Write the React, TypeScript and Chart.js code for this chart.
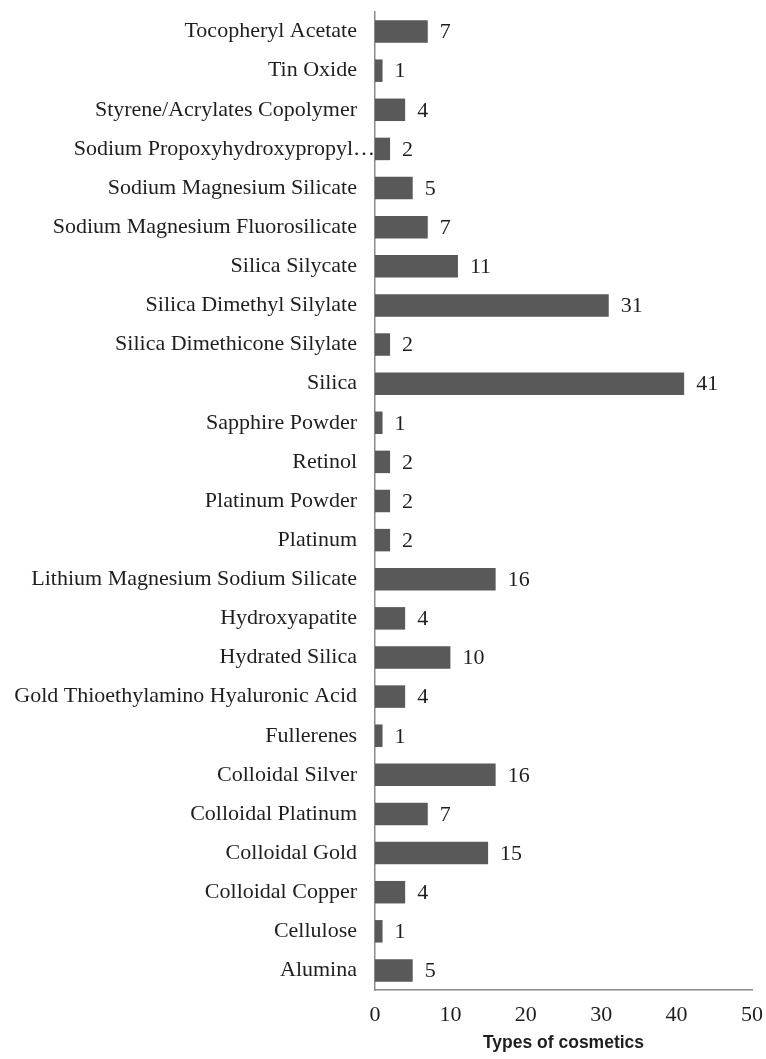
import React, { useEffect, useRef } from "react";
import { Chart, registerables } from "chart.js";

Chart.register(...registerables);

const categories: string[] = [
  "Tocopheryl Acetate",
  "Tin Oxide",
  "Styrene/Acrylates Copolymer",
  "Sodium Propoxyhydroxypropyl…",
  "Sodium Magnesium Silicate",
  "Sodium Magnesium Fluorosilicate",
  "Silica Silycate",
  "Silica Dimethyl Silylate",
  "Silica Dimethicone Silylate",
  "Silica",
  "Sapphire Powder",
  "Retinol",
  "Platinum Powder",
  "Platinum",
  "Lithium Magnesium Sodium Silicate",
  "Hydroxyapatite",
  "Hydrated Silica",
  "Gold Thioethylamino Hyaluronic Acid",
  "Fullerenes",
  "Colloidal Silver",
  "Colloidal Platinum",
  "Colloidal Gold",
  "Colloidal Copper",
  "Cellulose",
  "Alumina",
];

const counts: number[] = [
  7, 1, 4, 2, 5, 7, 11, 31, 2, 41, 1, 2, 2, 2, 16, 4, 10, 4, 1, 16, 7, 15, 4, 1, 5,
];

const xMin = 0;
const xMax = 50;
const xStep = 10;
const xTitle = "Types of cosmetics";

// index of the label that overflows up to the axis (truncated in the original)
const overflowIndex = 3;

const SERIF = "'Liberation Serif', 'Times New Roman', serif";
const TEXT = "#1e1e1e";

const valueLabels = {
  id: "valueLabels",
  afterDatasetsDraw(chart: any) {
    const ctx = chart.ctx;
    const meta = chart.getDatasetMeta(0);
    ctx.save();
    ctx.font = `22px ${SERIF}`;
    ctx.fillStyle = TEXT;
    ctx.textAlign = "left";
    ctx.textBaseline = "middle";
    meta.data.forEach((bar: any, i: number) => {
      const v = chart.data.datasets[0].data[i];
      ctx.fillText(String(v), bar.x + 12, bar.y + 1);
    });
    // overflowing category label, right-aligned at the axis line
    const y = chart.scales.y;
    ctx.textAlign = "right";
    ctx.fillText(categories[overflowIndex], y.right, y.getPixelForValue(overflowIndex));
    ctx.restore();
  },
};

function noPad(scale: any) {
  scale.paddingTop = 0;
  scale.paddingBottom = 0;
  scale.paddingLeft = 0;
  scale.paddingRight = 0;
}

export default function App() {
  const canvasRef = useRef<HTMLCanvasElement | null>(null);

  useEffect(() => {
    const canvas = canvasRef.current;
    if (!canvas) return;
    const chart = new Chart(canvas, {
      type: "bar",
      data: {
        labels: categories,
        datasets: [
          {
            data: counts,
            backgroundColor: "#595959",
            borderWidth: 0,
            categoryPercentage: 1,
            barPercentage: 0.575,
          },
        ],
      },
      options: {
        indexAxis: "y",
        responsive: false,
        animation: false,
        devicePixelRatio: 1,
        layout: { padding: { top: 12, right: 14, left: 0, bottom: 0 } },
        plugins: {
          legend: { display: false },
          tooltip: { enabled: false },
        },
        scales: {
          x: {
            min: xMin,
            max: xMax,
            grid: { display: false, drawTicks: false },
            border: { display: true, color: "#8a8a8a", width: 1.5 },
            ticks: {
              stepSize: xStep,
              padding: 12,
              color: TEXT,
              font: { family: SERIF, size: 22 },
              maxRotation: 0,
            },
            title: {
              display: true,
              text: xTitle,
              color: TEXT,
              font: { family: "'Liberation Sans', Arial, sans-serif", size: 17.5, weight: "bold" },
              padding: { top: 0, bottom: 5 },
            },
            afterFit(scale: any) {
              scale.height = 69;
              noPad(scale);
            },
          },
          y: {
            grid: { display: false, drawTicks: false },
            border: { display: true, color: "#8a8a8a", width: 1.5 },
            ticks: {
              autoSkip: false,
              padding: 18,
              color: (c: any) => (c.index === overflowIndex ? "rgba(0,0,0,0)" : TEXT),
              font: { family: SERIF, size: 22 },
            },
            afterFit(scale: any) {
              scale.width = 375;
              noPad(scale);
            },
          },
        },
      },
      plugins: [valueLabels],
    });
    return () => chart.destroy();
  }, []);

  return (
    <div style={{ position: "absolute", left: 0, top: 0, width: 766, height: 1059, background: "#fff" }}>
      <canvas ref={canvasRef} width={766} height={1059} style={{ display: "block" }} />
    </div>
  );
}
